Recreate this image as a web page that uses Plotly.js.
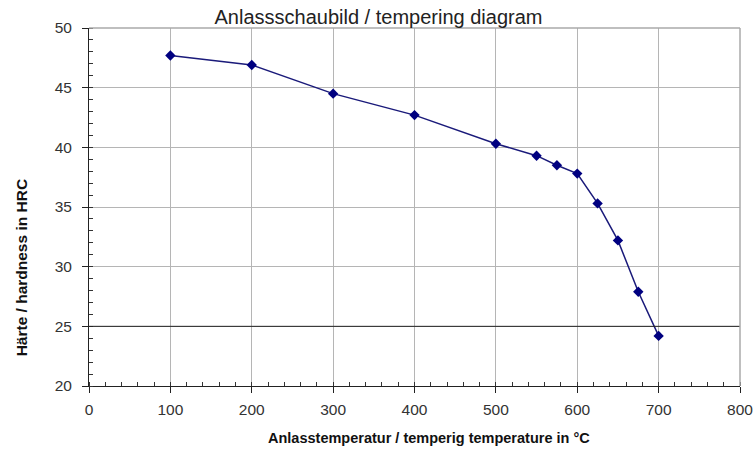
<!DOCTYPE html>
<html>
<head>
<meta charset="utf-8">
<script src="https://cdn.plot.ly/plotly-3.0.1.min.js"></script>
<style>html,body{margin:0;padding:0;background:#fff;}#chart{width:754px;height:450px;}</style>
</head>
<body>
<div id="chart"></div>
<script>
const temperatures = [100, 200, 300, 400, 500, 550, 575, 600, 625, 650, 675, 700];
const hardness = [47.7, 46.9, 44.5, 42.7, 40.3, 39.3, 38.5, 37.8, 35.3, 32.2, 27.9, 24.2];
const xTickValues = [0, 100, 200, 300, 400, 500, 600, 700, 800];
const yTickValues = [20, 25, 30, 35, 40, 45, 50];
const referenceHardness = 25;

const trace = {
  x: temperatures,
  y: hardness,
  type: 'scatter',
  mode: 'lines+markers',
  line: {color: '#1a1a7a', width: 1.5},
  marker: {symbol: 'diamond', size: 8, color: '#000080'},
  hoverinfo: 'x+y'
};

const layout = {
  width: 754,
  height: 450,
  margin: {l: 89, r: 14, t: 28, b: 64},
  paper_bgcolor: '#ffffff',
  plot_bgcolor: '#ffffff',
  showlegend: false,
  font: {family: 'Liberation Sans, Arial, sans-serif', color: '#222', size: 13},
  title: {text: 'Anlassschaubild / tempering diagram', x: 0.502, xref: 'container', xanchor: 'center',
          y: 0.962, yref: 'container', yanchor: 'middle',
          font: {size: 20, color: '#222'}},
  xaxis: {
    range: [0, 800], tickvals: xTickValues, ticks: 'outside', ticklen: 6, tickcolor: '#222',
    ticklabelstandoff: 3,
    showline: true, linecolor: '#222', linewidth: 1, mirror: false,
    showgrid: true, gridcolor: '#b5b5b5', gridwidth: 1, zeroline: false,
    tickfont: {size: 15.5, color: '#333'},
    minor: {dtick: 20, ticks: 'inside', ticklen: 4, tickcolor: '#333', showgrid: false}
  },
  yaxis: {
    range: [20, 50], tickvals: yTickValues, ticks: 'outside', ticklen: 6, tickcolor: '#222',
    ticklabelstandoff: 7,
    showline: true, linecolor: '#222', linewidth: 1, mirror: false,
    showgrid: true, gridcolor: '#b5b5b5', gridwidth: 1, zeroline: false,
    tickfont: {size: 15.5, color: '#333'},
    minor: {dtick: 1, ticks: 'inside', ticklen: 4, tickcolor: '#333', showgrid: false}
  },
  shapes: [
    {type: 'line', xref: 'x', yref: 'y', x0: 0, x1: 800, y0: referenceHardness, y1: referenceHardness,
     line: {color: '#222', width: 1}},
    {type: 'line', xref: 'paper', yref: 'paper', x0: 0, x1: 1, y0: 1, y1: 1, line: {color: '#aaa', width: 1.5}},
    {type: 'line', xref: 'paper', yref: 'paper', x0: 1, x1: 1, y0: 0, y1: 1, line: {color: '#aaa', width: 1.5}}
  ],
  annotations: [
    {text: '<b>Anlasstemperatur / temperig temperature in °C</b>', xref: 'paper', yref: 'paper',
     x: 0.522, y: -0.145, xanchor: 'center', yanchor: 'middle', showarrow: false,
     font: {size: 14.5, color: '#111'}},
    {text: '<b>Härte / hardness in HRC</b>', xref: 'paper', yref: 'paper', textangle: -90,
     x: -0.1037, y: 0.33, xanchor: 'center', yanchor: 'middle', showarrow: false,
     font: {size: 15.5, color: '#111'}}
  ]
};

Plotly.newPlot('chart', [trace], layout, {displayModeBar: false, staticPlot: true});
</script>
</body>
</html>
